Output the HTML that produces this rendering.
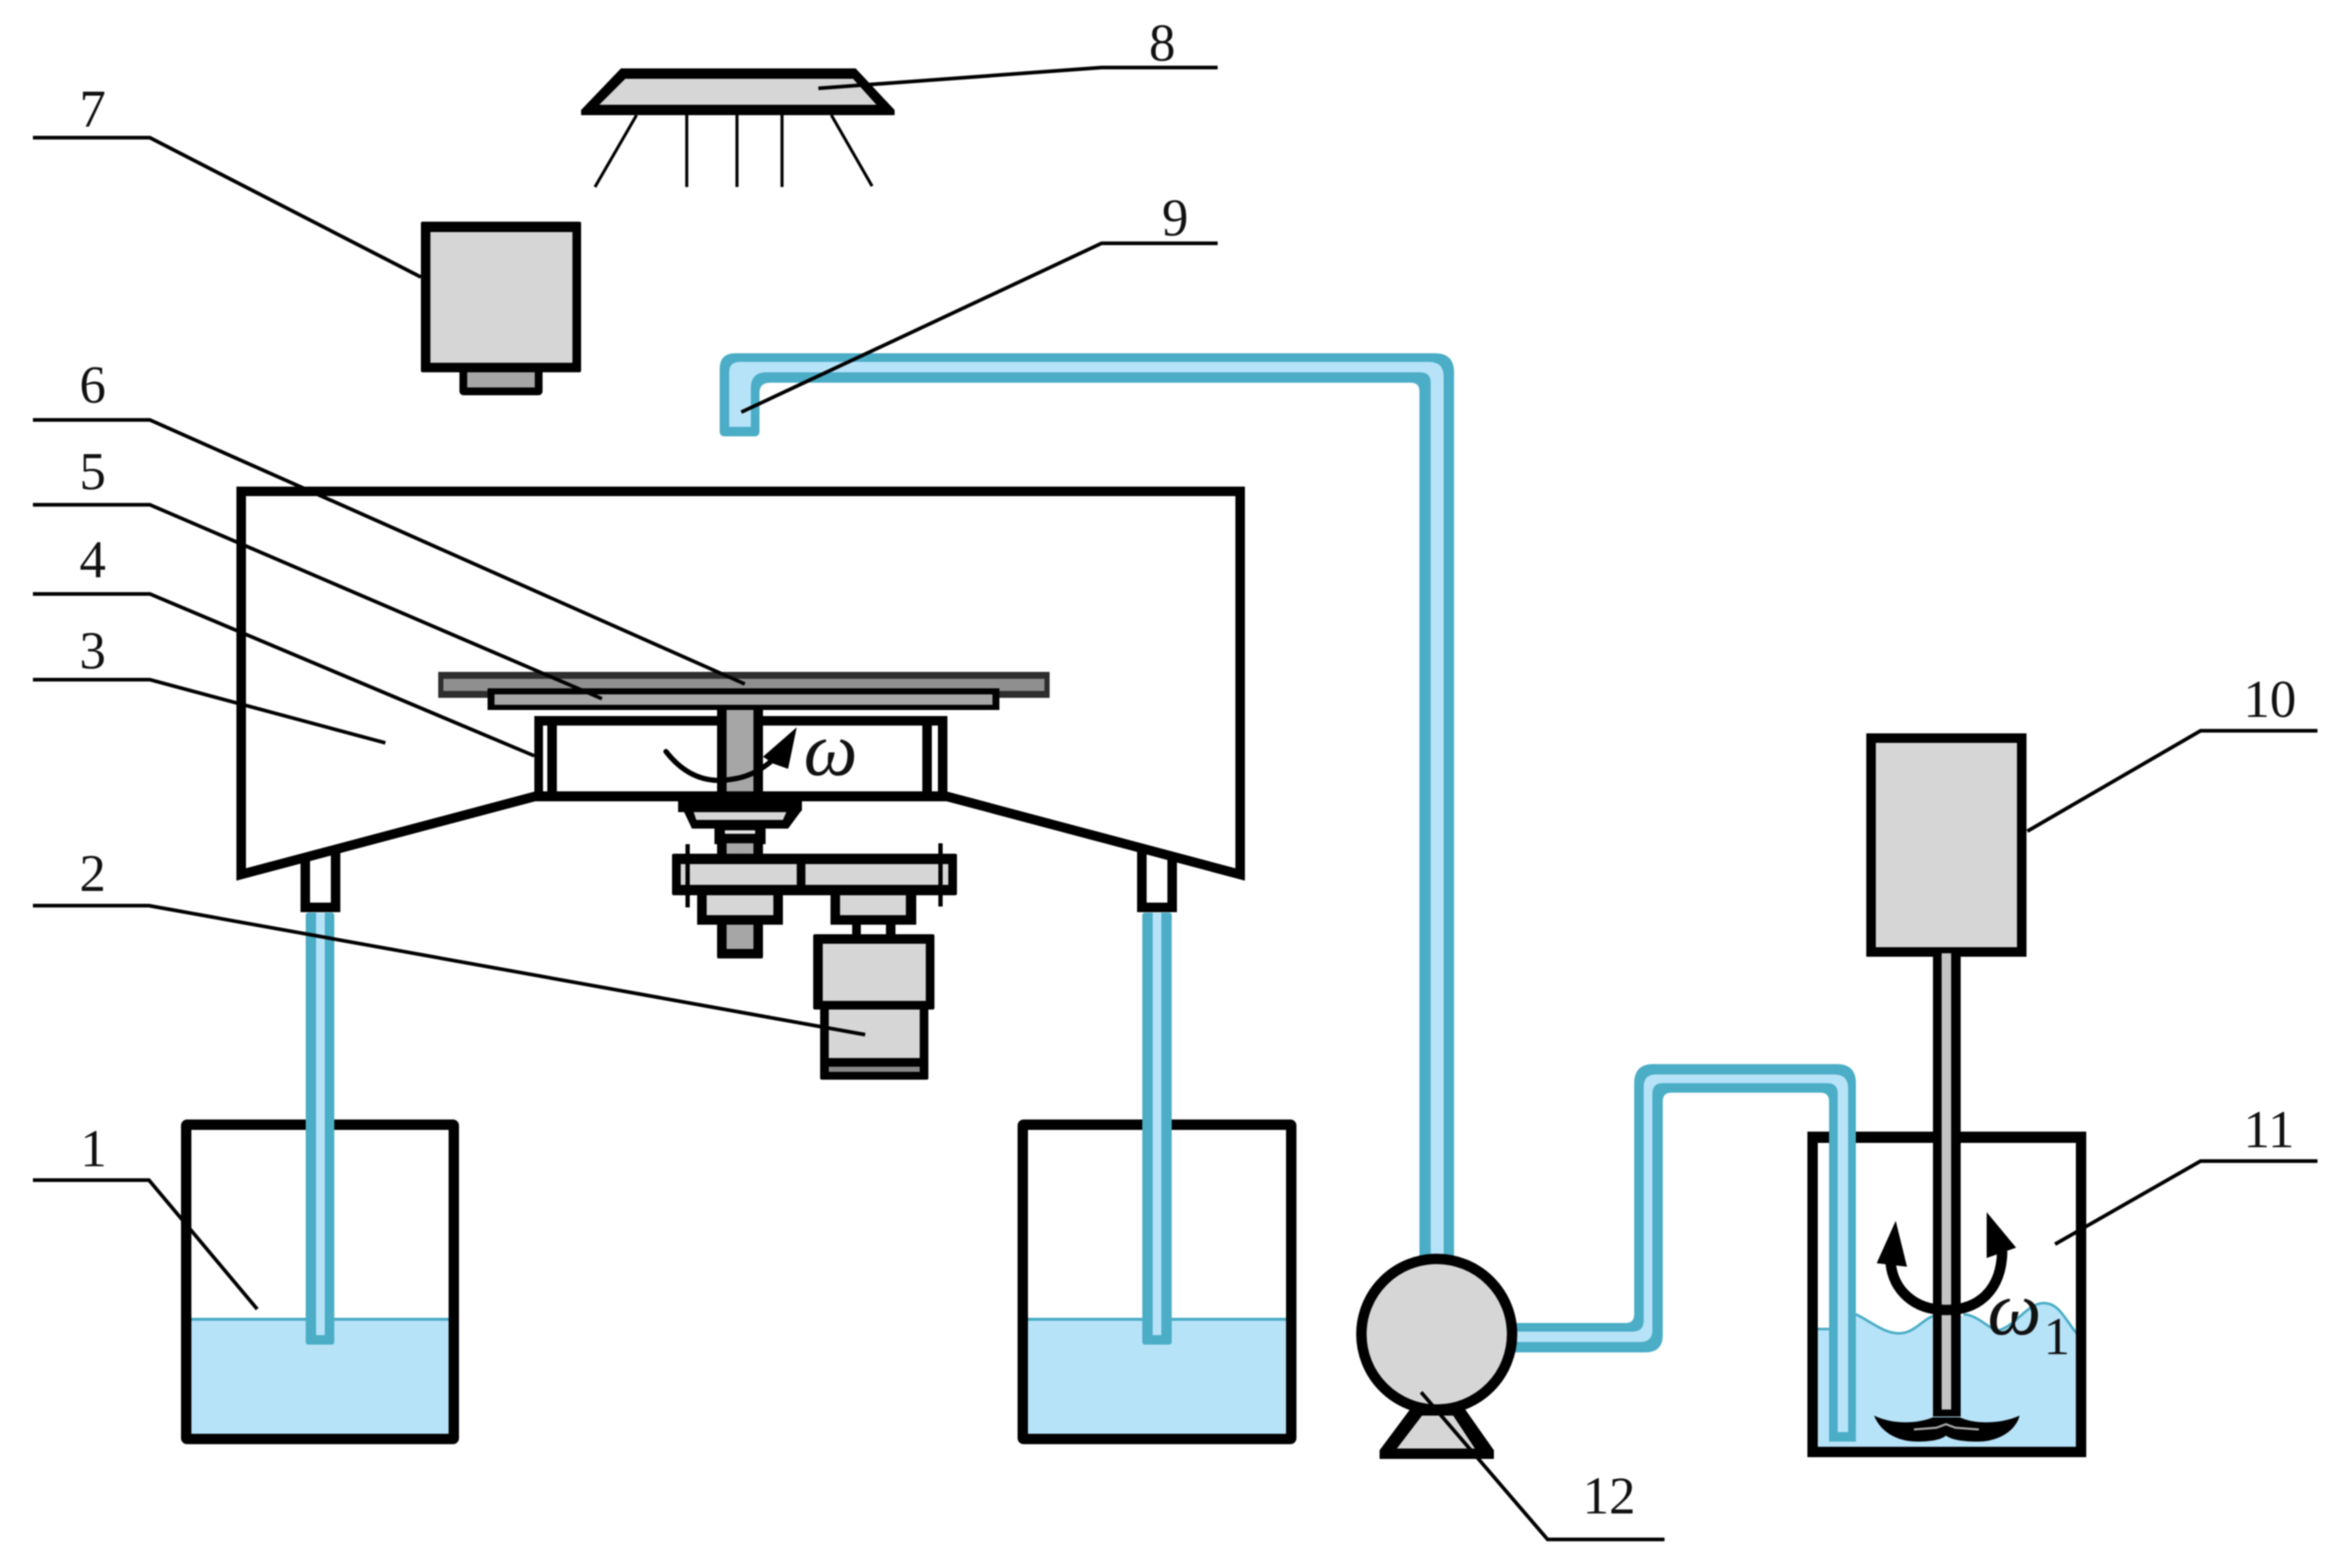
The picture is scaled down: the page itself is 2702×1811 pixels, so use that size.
<!DOCTYPE html>
<html><head><meta charset="utf-8"><style>
html,body{margin:0;padding:0;background:#fff;width:2702px;height:1811px;overflow:hidden}
svg{display:block;filter:blur(.7px)}
text{font-family:"Liberation Serif",serif;fill:#111}
.d{font-size:61px;text-anchor:middle}
.w{font-size:88px;font-style:italic}
.k{stroke:#000;fill:none;stroke-linejoin:round}
.g{fill:#d6d6d6;stroke:#000;stroke-width:11;stroke-linejoin:round}
.m{fill:#a6a6a6;stroke:#000;stroke-width:11;stroke-linejoin:round}
.o{fill:#4badc6}.l{fill:#b7e3f8}
.ld{fill:none;stroke:#000;stroke-width:4.2;stroke-linejoin:miter}
</style></head><body>
<svg width="2702" height="1811" viewBox="0 0 2702 1811" xmlns="http://www.w3.org/2000/svg">
<rect width="2702" height="1811" fill="#fff"/>

<!-- lamp 8 -->
<path d="M717 79H988L1033 127V133H671V127Z" fill="#000"/>
<path d="M722 91H985L1012 121H692Z" fill="#d6d6d6"/>
<path d="M735 133L687 216M793 133V216M851 133V216M903 133V216M960 133L1007 215" stroke="#000" stroke-width="3.5" fill="none"/>

<!-- camera 7 -->
<rect x="535" y="425" width="87" height="27" class="m" style="stroke-width:9"/>
<rect x="486" y="256" width="185" height="174" rx="2" fill="#000"/>
<rect x="497" y="268" width="164" height="151" fill="#d6d6d6"/>

<!-- pipe 9 -->
<path class="o" d="M831 498V426Q831 408 849 408H1657Q1679 408 1679 430V1480H1639V452Q1639 442 1629 442H889Q877 442 877 454V498Q877 504 871 504H837Q831 504 831 498Z"/>
<path class="l" d="M842 493V430Q842 418 854 418H1650Q1667 418 1667 435V1480H1652V442Q1652 430 1640 430H885Q867 430 867 448V493Z"/>

<!-- collars -->
<rect x="352.5" y="970" width="35" height="78" fill="#fff" stroke="#000" stroke-width="11"/>
<rect x="1318.5" y="970" width="35" height="78" fill="#fff" stroke="#000" stroke-width="11"/>

<!-- housing -->
<path d="M278.5 567.5H1432V1010L1094 920H617L278.5 1010Z" fill="#fff" stroke="#000" stroke-width="11" stroke-linejoin="miter"/>

<!-- plates -->
<rect x="506" y="776" width="706" height="30" fill="#2e2e2e"/>
<rect x="512" y="784" width="694" height="14" fill="#8f8f8f"/>
<rect x="563" y="795" width="591" height="25" fill="#000"/>
<rect x="571" y="802" width="575" height="12" fill="#a6a6a6"/>

<!-- frame -->
<rect x="617" y="827" width="477" height="98" fill="#000"/>
<rect x="643" y="838" width="422" height="76" fill="#fff"/>
<rect x="627" y="838" width="5" height="76" fill="#fff"/>
<rect x="1076" y="838" width="7" height="76" fill="#fff"/>

<!-- shaft -->
<rect x="828" y="820" width="53" height="105" fill="#000"/>
<rect x="839" y="820" width="31" height="94" fill="#a6a6a6"/>

<!-- bearing -->
<path d="M783 922H926V936L924 938L910 957H799L790 938H783Z" fill="#000"/>
<path d="M801 938H908L904 947H804Z" fill="#d6d6d6"/>
<rect x="825" y="955" width="59" height="20" fill="#000"/>
<rect x="837" y="959" width="35" height="4" fill="#e4e4e4"/>
<rect x="828" y="974" width="53" height="16" fill="#000"/>
<rect x="839" y="974" width="31" height="12" fill="#a6a6a6"/>

<!-- coupling -->
<rect x="776" y="986" width="329" height="48" rx="2" fill="#000"/>
<rect x="786" y="998" width="134" height="24" fill="#d6d6d6"/>
<rect x="930" y="998" width="165" height="24" fill="#d6d6d6"/>
<path d="M794 975V1048M1086 974V1047" stroke="#000" stroke-width="5"/>

<!-- nuts -->
<rect x="805" y="1031" width="99" height="37" fill="#000"/>
<rect x="816" y="1034" width="77" height="23" fill="#d6d6d6"/>
<rect x="959" y="1031" width="99" height="37" fill="#000"/>
<rect x="970" y="1034" width="76" height="23" fill="#d6d6d6"/>
<rect x="828" y="1066" width="53" height="41" rx="2" fill="#000"/>
<rect x="839" y="1068" width="31" height="28" fill="#a6a6a6"/>
<rect x="984" y="1068" width="10" height="12" fill="#000"/>
<rect x="1023" y="1068" width="11" height="12" fill="#000"/>

<!-- motor -->
<rect x="939" y="1079" width="140" height="87" rx="2" fill="#000"/>
<rect x="950" y="1090" width="119" height="66" fill="#d6d6d6"/>
<rect x="947" y="1164" width="125" height="83" rx="2" fill="#000"/>
<rect x="957" y="1166" width="105" height="56" fill="#d6d6d6"/>
<rect x="957" y="1232" width="105" height="6" fill="#888"/>

<!-- omega arrow -->
<path d="M769 868Q800 908 845 900Q870 897 892 878" class="k" stroke-width="6" stroke-linecap="round"/>
<path d="M920 840L881 874L893 882L910 888Z" fill="#000"/>
<text class="w" x="928" y="895">ω</text>

<!-- tanks 1, 2 -->
<rect x="215" y="1299" width="309" height="363" fill="#fff"/>
<rect x="215" y="1523" width="309" height="139" class="l"/>
<rect x="215" y="1522" width="309" height="3.5" class="o"/>
<rect x="215" y="1299" width="309" height="363" rx="1" fill="none" stroke="#000" stroke-width="12"/>
<rect x="1181" y="1299" width="310" height="363" fill="#fff"/>
<rect x="1181" y="1523" width="310" height="139" class="l"/>
<rect x="1181" y="1522" width="310" height="3.5" class="o"/>
<rect x="1181" y="1299" width="310" height="363" rx="1" fill="none" stroke="#000" stroke-width="12"/>

<rect x="353" y="1054" width="33" height="499" rx="3" class="o"/>
<rect x="365" y="1054" width="10" height="488" class="l"/>
<rect x="1319" y="1054" width="34" height="499" rx="3" class="o"/>
<rect x="1331" y="1054" width="10" height="488" class="l"/>

<!-- tank 11 -->
<path class="l" d="M2098 1535H2130L2143 1518C2160 1526 2175 1540 2193 1540C2210 1540 2220 1524 2232 1520H2267C2280 1518 2292 1530 2305 1537C2325 1535 2340 1505 2360 1505C2378 1505 2385 1525 2398 1540V1672H2098Z"/>
<path d="M2098 1535H2130M2143 1518C2160 1526 2175 1540 2193 1540C2210 1540 2220 1524 2232 1520M2267 1518C2280 1518 2292 1530 2305 1537C2325 1535 2340 1505 2360 1505C2378 1505 2385 1525 2398 1540" fill="none" stroke="#4badc6" stroke-width="3"/>
<rect x="2093" y="1313" width="310" height="364" fill="none" stroke="#000" stroke-width="12"/>
<rect x="2087" y="1307" width="322" height="13" fill="#000"/>
<rect x="2087" y="1671" width="322" height="12" fill="#000"/>

<!-- pump pipe -->
<path class="o" d="M1740 1528H1877Q1887 1528 1887 1518V1251Q1887 1229 1909 1229H2121Q2143 1229 2143 1251V1665H2112V1272Q2112 1262 2102 1262H1930Q1920 1262 1920 1272V1542Q1920 1562 1900 1562H1740Z"/>
<path class="l" d="M1740 1538H1885Q1898 1538 1898 1525V1255Q1898 1241 1912 1241H2118Q2134 1241 2134 1257V1654H2122V1263Q2122 1251 2110 1251H1920Q1908 1251 1908 1263V1536Q1908 1550 1894 1550H1740Z"/>

<!-- pump -->
<path d="M1628 1628H1692L1725 1675V1685H1593V1675Z" fill="#000"/>
<path d="M1642 1635H1678L1703 1673H1613Z" fill="#d6d6d6"/>
<circle cx="1659" cy="1541" r="87" fill="#d6d6d6" stroke="#000" stroke-width="12"/>

<!-- stirrer -->
<rect x="2160.5" y="852.5" width="174" height="247" fill="#d6d6d6" stroke="#000" stroke-width="11"/>
<rect x="2232" y="1101" width="32" height="535" fill="#000"/>
<rect x="2242" y="1101" width="11" height="527" fill="#c4c4c4"/>
<path d="M2164 1635C2172 1655 2192 1665 2214 1665C2232 1665 2243 1662 2247 1658C2252 1662 2263 1665 2284 1665C2308 1665 2328 1652 2332 1635C2310 1645 2280 1645 2263 1637H2232C2212 1645 2185 1645 2164 1635Z" fill="#000"/>
<path d="M2210 1651L2236 1649L2247 1645L2258 1649L2285 1651" stroke="#aaa" stroke-width="2.5" fill="none"/>

<!-- stir arrows -->
<path d="M2183 1458C2186 1490 2210 1513 2247 1513C2285 1513 2311 1490 2312 1445" class="k" stroke-width="12"/>
<path d="M2189 1410L2167 1459L2202 1463Z" fill="#000"/>
<path d="M2294 1400L2294 1453L2328 1441Z" fill="#000"/>
<text class="w" x="2295" y="1541">ω</text>
<text class="d" x="2375" y="1564">1</text>

<!-- leaders -->
<path class="ld" d="M38 1363H172L297 1512"/>
<path class="ld" d="M38 1046H172L999 1195"/>
<path class="ld" d="M38 785H173L445 858"/>
<path class="ld" d="M38 686H173L617 873"/>
<path class="ld" d="M38 583H173L695 807"/>
<path class="ld" d="M38 485H173L860 790"/>
<path class="ld" d="M38 159H173L486 320"/>
<path class="ld" d="M945 102L1272 78H1406"/>
<path class="ld" d="M856 476L1272 281H1406"/>
<path class="ld" d="M2341 960L2541 844H2676"/>
<path class="ld" d="M2373 1437L2541 1341H2676"/>
<path class="ld" d="M1641 1608L1787 1778H1922"/>

<!-- labels -->
<text class="d" x="108" y="1347">1</text>
<text class="d" x="107" y="1029">2</text>
<text class="d" x="107" y="772">3</text>
<text class="d" x="107" y="667">4</text>
<text class="d" x="107" y="565">5</text>
<text class="d" x="107" y="465">6</text>
<text class="d" x="107" y="146">7</text>
<text class="d" x="1342" y="70">8</text>
<text class="d" x="1357" y="272">9</text>
<text class="d" x="2621" y="828">10</text>
<text class="d" x="2620" y="1325">11</text>
<text class="d" x="1858" y="1748">12</text>
</svg>
</body></html>
